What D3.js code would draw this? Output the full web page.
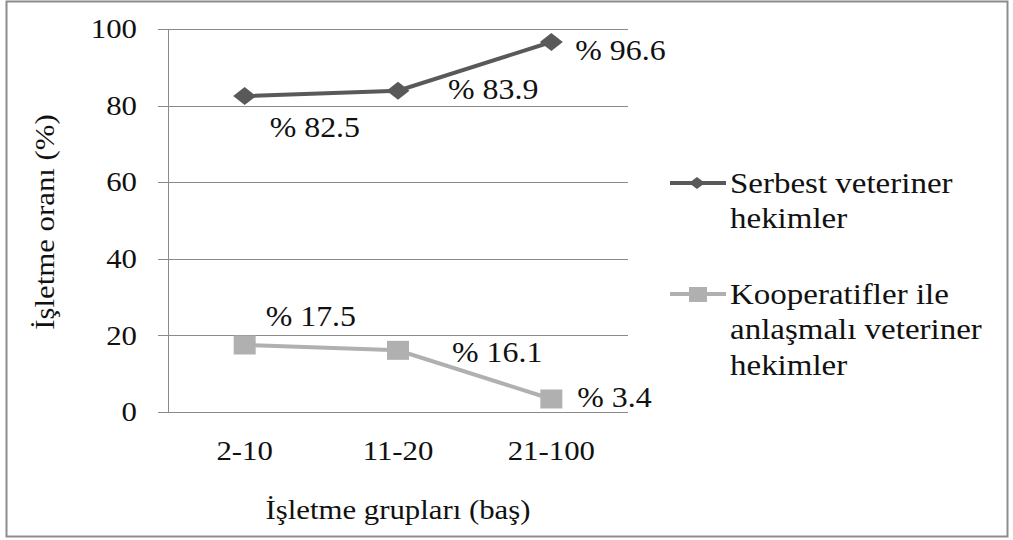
<!DOCTYPE html>
<html>
<head>
<meta charset="utf-8">
<script src="https://cdn.jsdelivr.net/npm/d3@7"></script>
<style>
  html, body { margin: 0; padding: 0; background: #fff; }
</style>
</head>
<body>
<svg id="chart" width="1013" height="540"></svg>
<script>
// Data
const categories = ["2-10", "11-20", "21-100"];
const serbest = [82.5, 83.9, 96.6];
const kooperatif = [17.5, 16.1, 3.4];
const yTicks = [0, 20, 40, 60, 80, 100];
const seriesNames = [["Serbest veteriner", "hekimler"], ["Kooperatifler ile", "anlaşmalı veteriner", "hekimler"]];
const yTitle = "İşletme oranı (%)";
const xTitle = "İşletme grupları (baş)";

const W = 1013, H = 540;
const margin = { left: 168, right: 385, top: 29, bottom: 128 };
const fontFamily = "Liberation Serif";
const fontSize = 28, stretch = 1.1;

const svg = d3.select("#chart");

// Outer frame
svg.append("rect").attr("x", 6.5).attr("y", 1.5).attr("width", 1001).attr("height", 535)
  .attr("fill", "#fff").attr("stroke", "#8c8c8c").attr("stroke-width", 2);

const x = d3.scaleBand().domain(categories).range([margin.left, W - margin.right]);
const y = d3.scaleLinear().domain([0, 100]).range([H - margin.bottom, margin.top]);

function label(g, txt, px, py, anchor, extra, size) {
  return g.append("text")
    .attr("transform", `translate(${px},${py}) ${extra || ""} scale(${stretch},1)`)
    .attr("text-anchor", anchor || "start")
    .attr("dy", "0.33em")
    .attr("font-family", fontFamily)
    .attr("font-size", size || fontSize)
    .attr("fill", "#111")
    .text(txt);
}

// Gridlines + y ticks
const grid = svg.append("g");
yTicks.forEach(v => {
  grid.append("line")
    .attr("x1", margin.left - 10).attr("x2", W - margin.right)
    .attr("y1", Math.round(y(v)) + 0.5).attr("y2", Math.round(y(v)) + 0.5)
    .attr("stroke", "#8a8a8a").attr("stroke-width", 1);
  label(grid, String(v), 137, y(v), "end");
});
// y axis line
grid.append("line").attr("x1", margin.left + 0.5).attr("x2", margin.left + 0.5)
  .attr("y1", y(100)).attr("y2", y(0)).attr("stroke", "#8a8a8a");

// x labels
categories.forEach(c => label(svg, c, x(c) + x.bandwidth() / 2, 451, "middle"));

// Axis titles
label(svg, xTitle, (margin.left + W - margin.right) / 2, 510, "middle");
label(svg, yTitle, 45, 222, "middle", "rotate(-90)");

const lineGen = d3.line().x((d, i) => x(categories[i]) + x.bandwidth() / 2).y(d => y(d));

// Series 1: dark diamonds
const dark = "#595959", light = "#b0b0b0";
svg.append("path").datum(serbest).attr("d", lineGen)
  .attr("fill", "none").attr("stroke", dark).attr("stroke-width", 4);
const diamond = "M0,-9 L11.5,0 L0,9 L-11.5,0 Z";
serbest.forEach((v, i) => {
  svg.append("path").attr("d", diamond)
    .attr("transform", `translate(${x(categories[i]) + x.bandwidth() / 2},${y(v)})`)
    .attr("fill", dark);
});

// Series 2: light squares
svg.append("path").datum(kooperatif).attr("d", lineGen)
  .attr("fill", "none").attr("stroke", light).attr("stroke-width", 4);
kooperatif.forEach((v, i) => {
  svg.append("rect")
    .attr("x", x(categories[i]) + x.bandwidth() / 2 - 11)
    .attr("y", y(v) - 9.5).attr("width", 22).attr("height", 19)
    .attr("fill", light);
});

// Value labels
const valueSize = 29;
const fmt = v => "% " + v;
const offs1 = [[25, 31], [50, -1], [24, 8]];
serbest.forEach((v, i) => {
  const cx = x(categories[i]) + x.bandwidth() / 2;
  label(svg, fmt(v), cx + offs1[i][0], y(v) + offs1[i][1], "start", "", valueSize);
});
const offs2 = [[21, -29], [54, 2], [26, -2]];
kooperatif.forEach((v, i) => {
  const cx = x(categories[i]) + x.bandwidth() / 2;
  label(svg, fmt(v), cx + offs2[i][0], y(v) + offs2[i][1], "start", "", valueSize);
});

// Legend
const legend = svg.append("g");
const legendY = [183, 294];
const legendSize = 30;
[[dark, "d"], [light, "s"]].forEach(([col, shape], k) => {
  const ly = legendY[k];
  legend.append("line").attr("x1", 670).attr("x2", 726).attr("y1", ly).attr("y2", ly)
    .attr("stroke", col).attr("stroke-width", 4);
  if (shape === "d") {
    legend.append("path").attr("d", "M0,-6 L8,0 L0,6 L-8,0 Z")
      .attr("transform", `translate(697,${ly})`).attr("fill", col);
  } else {
    legend.append("rect").attr("x", 689).attr("y", ly - 7).attr("width", 18).attr("height", 15).attr("fill", col);
  }
  seriesNames[k].forEach((ln, j) => label(legend, ln, 730, ly + j * 35.5, "start", "", legendSize));
});
</script>
</body>
</html>
